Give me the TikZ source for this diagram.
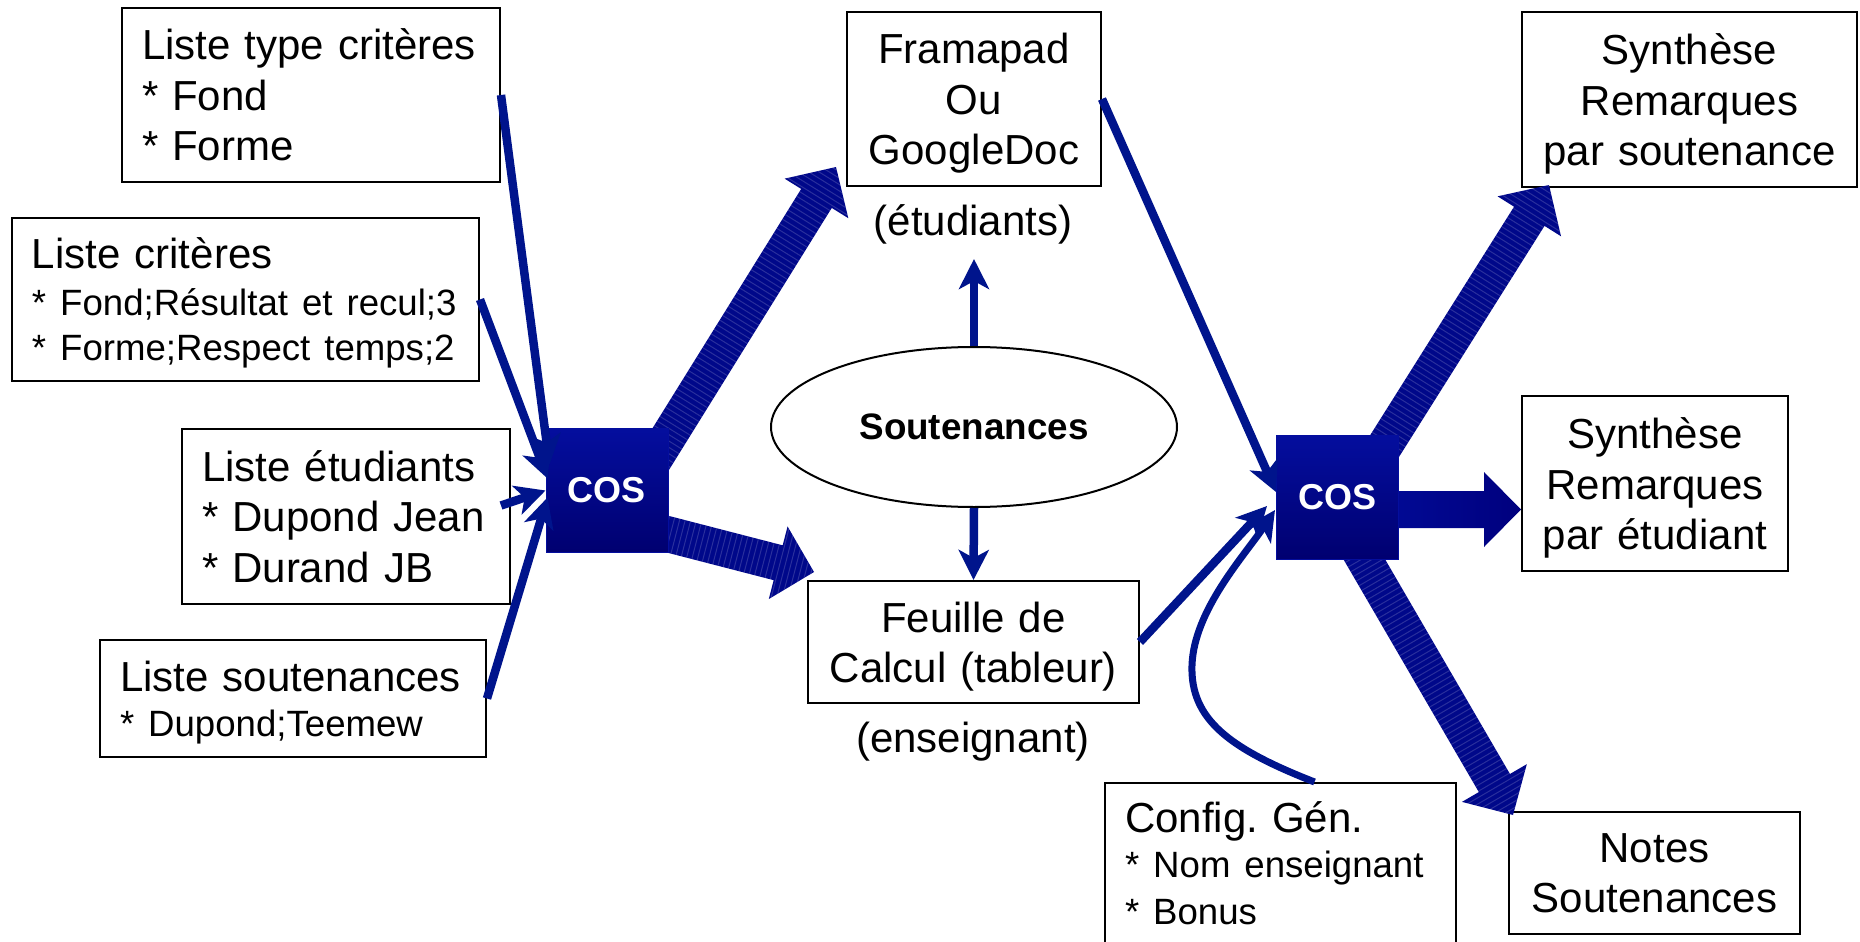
\documentclass[tikz,border=0pt]{standalone}
\usepackage{fontspec}
\setmainfont{Liberation Sans}
\usetikzlibrary{arrows.meta,shapes.geometric,calc}
\definecolor{cosTop}{RGB}{4,14,158}
\definecolor{cosBot}{RGB}{0,0,112}
\definecolor{thinBlue}{RGB}{0,20,140}
\definecolor{thickBlue}{RGB}{0,8,138}
\definecolor{solidL}{RGB}{2,14,158}
\definecolor{solidR}{RGB}{0,0,126}
\newcommand\fBig{\fontsize{21}{25.25}\selectfont}
\newcommand\fSm{\fontsize{18.3}{22.5}\selectfont}
\newcommand\nodesc[1]{\par\kern-#1\relax}
\newcommand\BAhl{18.5pt}
\newcommand\BAhw{18.75pt}
\newcommand\BAsw{9pt}
\newcommand\bigarrowpath[2]{let \p1=(#1),\p2=(#2),\n1={atan2(\y2-\y1,\x2-\x1)} in (#2) -- ($(#2)+(\n1+180:\BAhl)+(\n1+90:\BAhw)$) -- ($(#2)+(\n1+180:\BAhl)+(\n1+90:\BAsw)$) -- ($(#1)+(\n1+90:\BAsw)$) -- ($(#1)+(\n1-90:\BAsw)$) -- ($(#2)+(\n1+180:\BAhl)+(\n1-90:\BAsw)$) -- ($(#2)+(\n1+180:\BAhl)+(\n1-90:\BAhw)$) -- cycle}
\newcommand\hatcharrow[2]{%
  \fill[thickBlue] \bigarrowpath{#1}{#2};
  \begin{scope}
    \clip \bigarrowpath{#1}{#2};
    \draw[hatchlines] (#1) -- (#2);
  \end{scope}}
\begin{document}
\begin{tikzpicture}[x=0.5pt,y=-0.5pt,
  box/.style={draw=black, line width=1pt, inner xsep=10pt, inner ysep=0pt, align=left, font=\fBig},
  cbox/.style={draw=black, line width=1pt, inner xsep=2pt, inner ysep=0pt, align=center, font=\fBig},
  lbl/.style={font=\fBig, inner sep=0pt},
  cosbox/.style={draw=cosTop, line width=0.5pt, top color=cosTop, bottom color=cosBot, text=white, font=\fontsize{18}{21}\selectfont\bfseries, minimum width=61pt, minimum height=62pt, inner sep=0pt},
  thinarrow/.style={draw=thinBlue, line width=4.25pt, -{Stealth[length=15pt,width=15pt,inset=4pt]}},
  hatchlines/.style={white, opacity=0.16, line width=40pt, dash pattern=on 0.5pt off 2.2pt}
]
\useasboundingbox (0,0) rectangle (1860,942);
\clip (0,0) rectangle (1860,942);
\fill[white] (0,0) rectangle (1860,942);

% left input boxes
\node[box, text width=169pt, minimum height=87pt] (lt) at (311,95) {Liste~type~critères\\{}*~Fond\\{}*~Forme};
\node[box, text width=213.5pt, minimum height=81.5pt] (lc) at (245.5,299.5) {Liste~critères\\[-1.75pt]{\fSm *~Fond;Résultat~et~recul;3}\\[-2.75pt]{\fSm *~Forme;Respect~temps;2}\nodesc{3.8pt}};
\node[box, text width=144pt, minimum height=87.5pt] (le) at (346,516.5) {Liste~étudiants\\{}*~Dupond~Jean\\{}*~Durand~JB};
\node[box, text width=173pt, minimum height=58.5pt] (ls) at (293,698.5) {Liste~soutenances\\[-2.75pt]{\fSm *~Dupond;Teemew}\nodesc{3.8pt}};
\node[box, text width=155.5pt, minimum height=80.5pt] (cf) at (1280.5,863.5) {Config.~Gén.\\[-2.75pt]{\fSm *~Nom~enseignant}\\[-1.75pt]{\fSm *~Bonus}};

% centred boxes
\node[cbox, text width=123pt, minimum height=87pt] (fr) at (974,99) {Framapad\\Ou\\GoogleDoc\nodesc{4.4pt}};
\node[cbox, text width=161.5pt, minimum height=61pt] (fe) at (973.5,642) {Feuille~de\\Calcul~(tableur)\nodesc{4.4pt}};
\node[cbox, text width=163.5pt, minimum height=87.5pt] (s1) at (1689.5,99.5) {Synthèse\\Remarques\\par~soutenance\nodesc{4.4pt}};
\node[cbox, text width=129pt, minimum height=87.5pt] (s2) at (1655,483.5) {Synthèse\\Remarques\\par~étudiant\nodesc{4.4pt}};
\node[cbox, text width=141.5pt, minimum height=61pt] (no) at (1654.5,873) {Notes\\Soutenances};

\node[ellipse, draw=black, line width=1pt, minimum width=203pt, minimum height=80pt, inner sep=0pt, font=\fontsize{18.4}{22}\selectfont\bfseries] (sout) at (974,427) {Soutenances};

\node[lbl, anchor=base] (etu) at (973,235) {(étudiants)};
\node[lbl, anchor=base] (ens) at (973,752) {(enseignant)};

% COS positions (placed first as coordinates for the big arrows)
\coordinate (cos1c) at (607,490.5);
\coordinate (cos2c) at (1337.5,497);

% big hatched arrows (behind the COS boxes)
\coordinate (t10) at ([xshift=14pt]cos1c);
\coordinate (p10) at ([xshift=-5pt,yshift=10pt]fr.south west);
\coordinate (t11) at ([yshift=-14pt]cos1c);
\coordinate (p11) at ([xshift=3.5pt,yshift=4pt]fe.north west);
\coordinate (t12) at ([xshift=7.5pt]cos2c);
\coordinate (p12) at ([xshift=14pt,yshift=1.5pt]s1.south west);
\coordinate (t14) at ([xshift=-4.75pt]cos2c);
\coordinate (p14) at ([xshift=2.5pt,yshift=-2pt]no.north west);
\hatcharrow{t10}{p10}
\hatcharrow{t11}{p11}
\hatcharrow{t12}{p12}
\hatcharrow{t14}{p14}

% solid arrow to "par étudiant"
\coordinate (p13) at ([yshift=-13pt]s2.west);
\coordinate (t13) at (cos2c |- p13);
\shade[left color=solidL, right color=solidR]
  (p13) -- ($(p13)+(-37,-37.5)$) -- ($(p13)+(-37,-18.5)$) -- ($(t13)+(0,-18.5)$)
  -- ($(t13)+(0,18.5)$) -- ($(p13)+(-37,18.5)$) -- ($(p13)+(-37,37.5)$) -- cycle;

% COS boxes
\node[cosbox] (cos1) at (cos1c) {COS};
\node[cosbox] (cos2) at (cos2c) {COS};

% thin arrows into COS 1
\draw[thinarrow] (lt.east) -- ([xshift=2pt,yshift=13pt]cos1.west);
\draw[thinarrow] (lc.east) -- ([xshift=1pt,yshift=6pt]cos1.west);
\draw[thinarrow] ([xshift=-5pt,yshift=5.5pt]le.east) -- (cos1.west);
\draw[thinarrow] (ls.east) -- ([xshift=1pt,yshift=-3.5pt]cos1.west);

% thin arrows into COS 2
\draw[thinarrow] (fr.east) -- ([yshift=2.5pt]cos2.west);
\draw[thinarrow] (fe.east) -- ([xshift=-4.5pt,yshift=-4.5pt]cos2.west);
\coordinate (k0) at ([xshift=17pt]cf.north);
\coordinate (kmid) at (1192,665);
\coordinate (kend) at ([xshift=-0.5pt,yshift=-6.5pt]cos2.west);
\draw[thinarrow, line width=3.5pt] (k0) .. controls ($(k0)+(-84,-33)$) and ($(kmid)+(-2,55)$) .. (kmid)
  .. controls ($(kmid)+(2,-55)$) and ($(kend)+(-30,45)$) .. (kend);

% arrows from the ellipse
\draw[thinarrow] (sout.north) -- ([yshift=-36pt]fr.south);
\draw[thinarrow] (sout.south) -- (fe.north);
\end{tikzpicture}
\end{document}
